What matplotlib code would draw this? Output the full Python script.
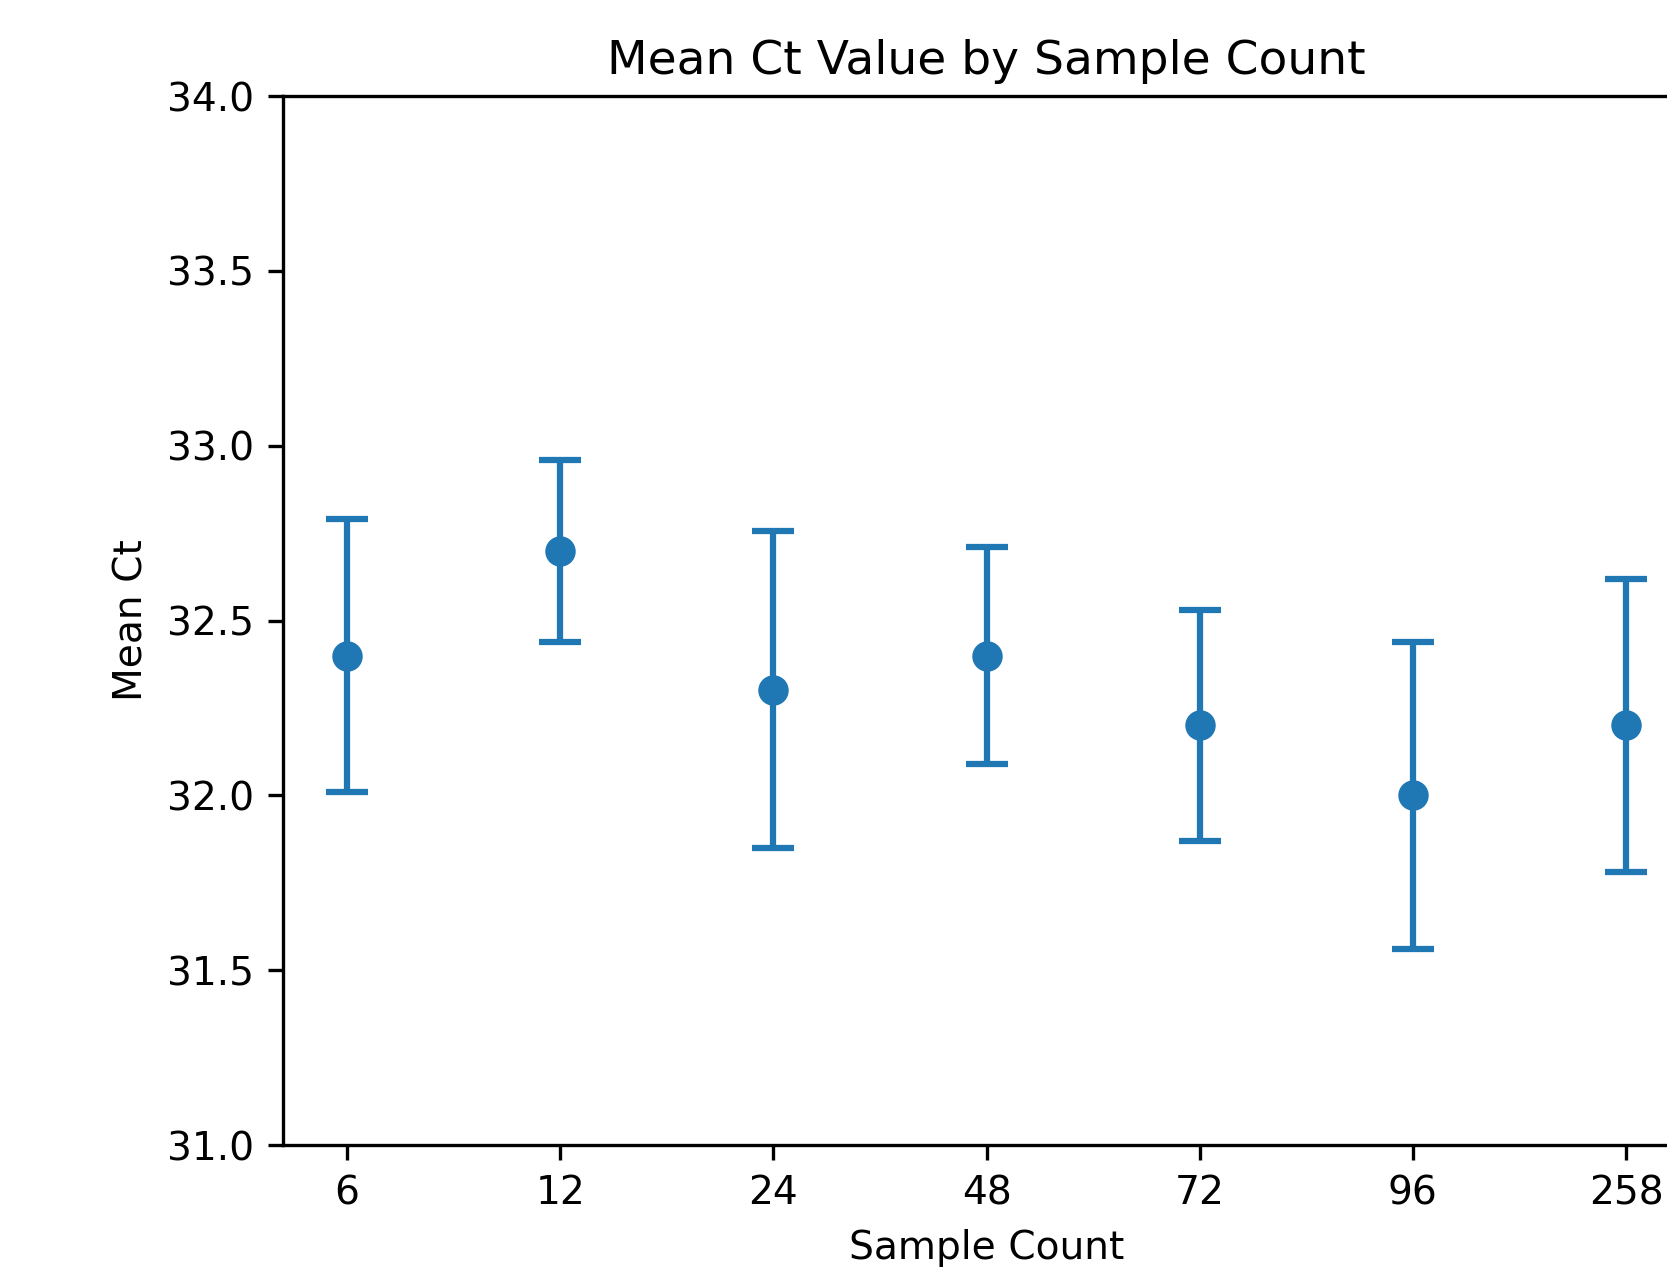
import matplotlib
matplotlib.use("Agg")
import matplotlib.pyplot as plt
import numpy as np

sample_counts = ["6", "12", "24", "48", "72", "96", "258"]
mean_ct = [32.4, 32.7, 32.3, 32.4, 32.2, 32.0, 32.2]
ct_upper = [32.79, 32.96, 32.755, 32.71, 32.53, 32.44, 32.62]
ct_lower = [32.01, 32.44, 31.85, 32.09, 31.87, 31.56, 31.78]

plt.rcParams["font.size"] = 9.4
plt.rcParams["axes.titlesize"] = 11.3

m = np.array(mean_ct)
yerr = np.vstack([m - np.array(ct_lower), np.array(ct_upper) - m])

fig = plt.figure(figsize=(1667 / 300, 1272 / 300), dpi=300)
ax = fig.add_axes([0.1698, 0.0998, 0.8440, 0.8247])
ax.errorbar(sample_counts, mean_ct, yerr=yerr, fmt="o", color="#1f77b4",
            capsize=5, markersize=6.3, elinewidth=1.5, capthick=1.5)
ax.set_ylim(31.0, 34.0)
ax.set_xlabel("Sample Count")
ax.set_ylabel("Mean Ct")
ax.set_title("Mean Ct Value by Sample Count", pad=5.2)
fig.savefig("out.png", dpi=300)
